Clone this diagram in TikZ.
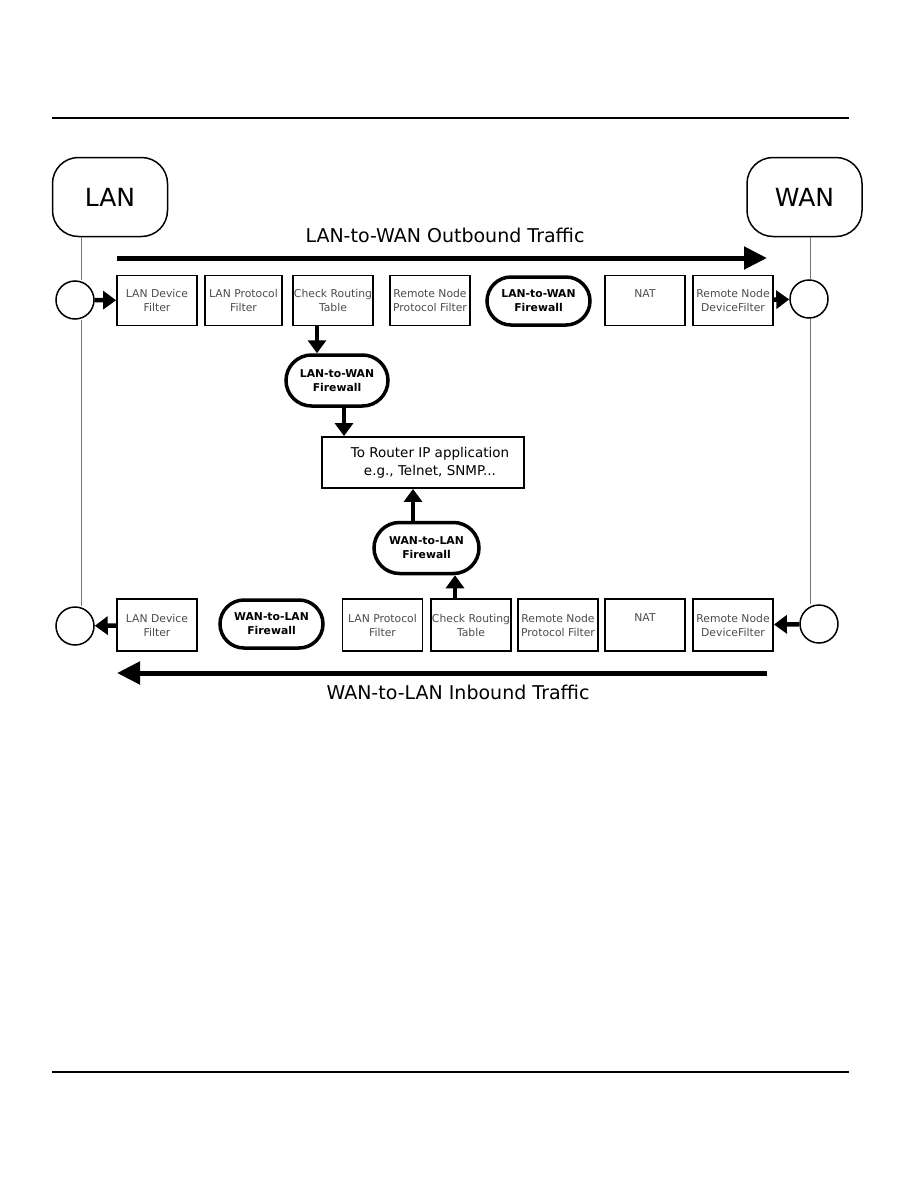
\documentclass[tikz,border=0pt]{standalone}
\usepackage{fontspec}
\setmainfont{DejaVu Sans}
\usetikzlibrary{arrows.meta}
\tikzset{
  filterbox/.style={draw, line width=1.8pt, minimum width=80pt, minimum height=50pt, inner sep=0pt, align=center, text=black!70, font=\fontsize{10.8}{14}\selectfont},
  fwall/.style={draw, line width=3.5pt, rounded corners=24pt, minimum width=103pt, minimum height=48pt, inner sep=0pt, align=center, font=\bfseries\fontsize{10.8}{14}\selectfont},
  endpoint/.style={draw, line width=1.5pt, rounded corners=26pt, minimum width=115pt, minimum height=79pt, font=\fontsize{25}{28}\selectfont},
  port/.style={draw, circle, line width=1.5pt, minimum size=38pt, inner sep=0pt},
  rail/.style={draw=black!55, line width=0.8pt},
  flow/.style={line width=5pt, -{Triangle[length=23pt,width=22pt]}},
  hop/.style={line width=4.5pt, -{Triangle[length=13pt,width=18pt]}},
  flowlabel/.style={font=\fontsize{19}{22}\selectfont}
}
\begin{document}
\begin{tikzpicture}[x=1pt, y=-1pt]
  \useasboundingbox (0,0) rectangle (918,1188);
  % page rules
  \draw[line width=1.5pt] (52,118) -- (849,118);
  \draw[line width=1.5pt] (52,1072) -- (849,1072);

  % LAN and WAN ends
  \node[endpoint] (lan) at (110,197) {LAN};
  \node[endpoint] (wan) at (804.5,197) {WAN};
  \node[port] (lanout) at (75,300) {};
  \node[port] (wanout) at (809,299) {};
  \node[port] (lanin) at (75,626) {};
  \node[port] (wanin) at (819,624) {};
  \coordinate (lanrail) at (81,0);
  \coordinate (wanrail) at (810.5,0);
  \draw[rail] (lanrail |- lan.south) -- (lanrail |- lanout.north);
  \draw[rail] (lanrail |- lanout.south) -- (lanrail |- lanin.north);
  \draw[rail] (wanrail |- wan.south) -- (wanrail |- wanout.north);
  \draw[rail] (wanrail |- wanout.south) -- (wanrail |- wanin.north);

  % outbound path
  \node[flowlabel] (outtxt) at (445,235) {LAN-to-WAN Outbound Traffic};
  \coordinate (outA) at (117,258);
  \coordinate (outB) at (767,258);
  \draw[flow] (outA) -- (outB);
  \node[filterbox] (ldf1) at (157,300.5) {LAN Device\\Filter};
  \node[filterbox, minimum width=77pt] (lpf1) at (243.5,300.5) {LAN Protocol\\Filter};
  \node[filterbox] (crt1) at (333,300.5) {Check Routing\\Table};
  \node[filterbox] (rnpf1) at (430,300.5) {Remote Node\\Protocol Filter};
  \node[fwall] (fw1) at (538.5,301) {LAN-to-WAN\\Firewall};
  \node[filterbox] (nat1) at (645,300.5) {NAT\\~};
  \node[filterbox] (rndf1) at (733,300.5) {Remote Node\\DeviceFilter};
  \draw[hop] (lanout) -- (ldf1);
  \draw[hop] (rndf1) -- (wanout);

  % to the router
  \node[fwall, minimum width=102pt, minimum height=51pt, rounded corners=25.5pt] (fw3) at (337,380.5) {LAN-to-WAN\\Firewall};
  \node[draw, line width=1.8pt, minimum width=202pt, minimum height=51pt, align=center, inner sep=0pt, font=\fontsize{13.5}{18}\selectfont] (app) at (423,462.5) {\hspace*{14pt}To Router IP application\\\hspace*{14pt}e.g., Telnet, SNMP...};
  \node[fwall, minimum width=105pt, minimum height=51pt, rounded corners=25.5pt] (fw4) at (426.5,548) {WAN-to-LAN\\Firewall};
  \draw[hop] ([xshift=-16pt]crt1.south) -- ([xshift=-16pt]crt1.south |- fw3.north);
  \draw[hop] ([xshift=7pt]fw3.south) -- ([xshift=7pt]fw3.south |- app.north);
  \draw[hop] ([xshift=-13.5pt]fw4.north) -- ([xshift=-13.5pt]fw4.north |- app.south);

  % inbound path
  \node[filterbox, minimum height=52pt] (ldf2) at (157,625) {LAN Device\\Filter};
  \node[fwall] (fw2) at (271.5,624) {WAN-to-LAN\\Firewall};
  \node[filterbox, minimum height=52pt] (lpf2) at (382.5,625) {LAN Protocol\\Filter};
  \node[filterbox, minimum height=52pt] (crt2) at (471,625) {Check Routing\\Table};
  \node[filterbox, minimum height=52pt] (rnpf2) at (558,625) {Remote Node\\Protocol Filter};
  \node[filterbox, minimum height=52pt] (nat2) at (645,625) {NAT\\~};
  \node[filterbox, minimum height=52pt] (rndf2) at (733,625) {Remote Node\\DeviceFilter};
  \draw[hop] (wanin) -- (rndf2);
  \draw[hop] (ldf2) -- (lanin);
  \draw[hop] ([xshift=-16pt]crt2.north) -- ([xshift=-16pt]crt2.north |- fw4.south);
  \coordinate (inA) at (767,673);
  \coordinate (inB) at (117,673);
  \draw[flow] (inA) -- (inB);
  \node[flowlabel] (intxt) at (458,692) {WAN-to-LAN Inbound Traffic};
\end{tikzpicture}
\end{document}
